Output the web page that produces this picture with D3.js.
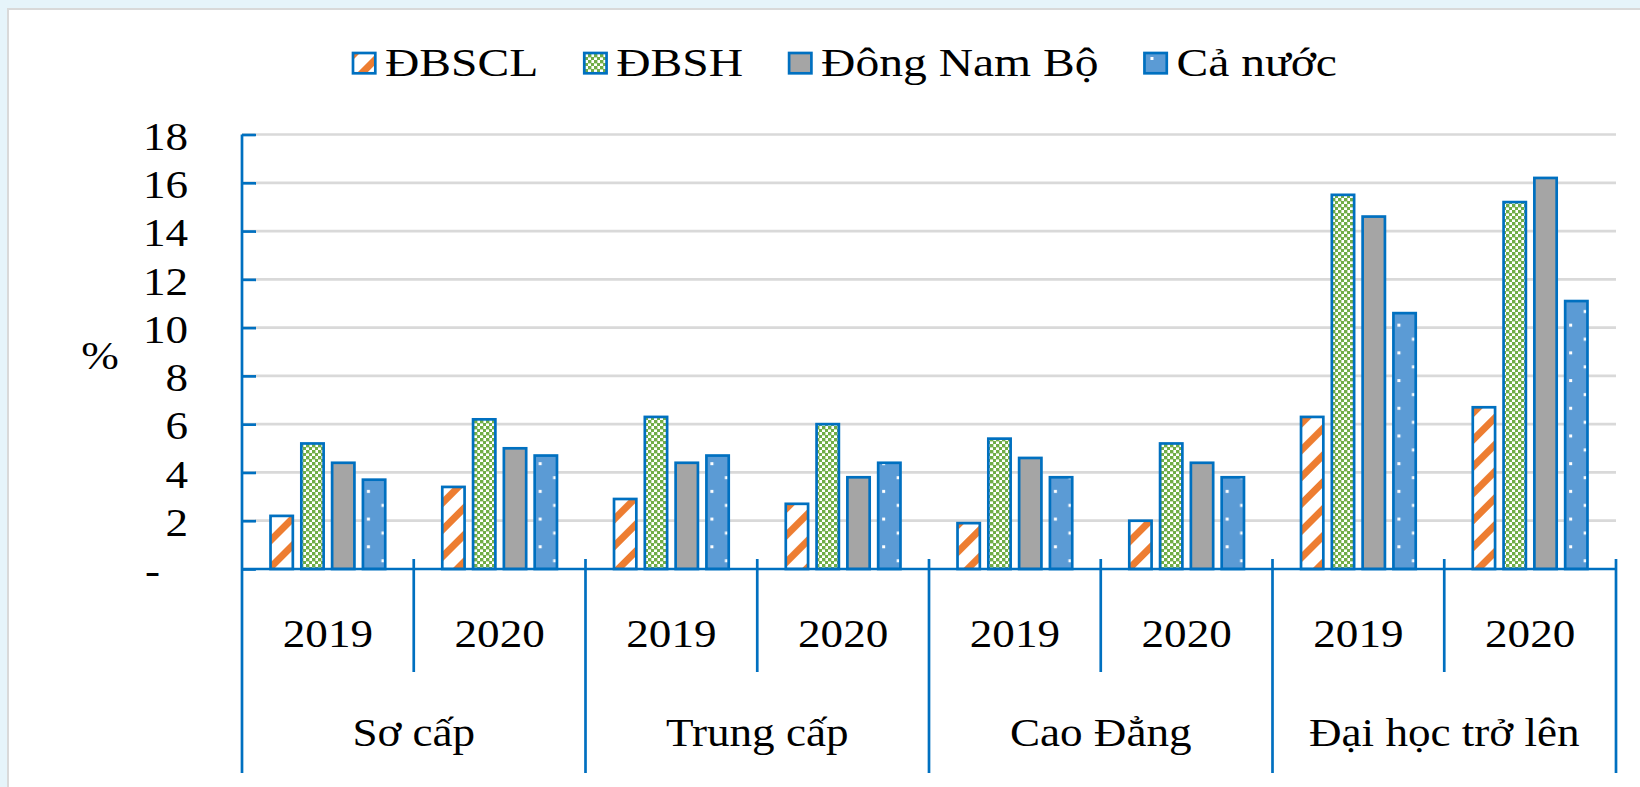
<!DOCTYPE html>
<html>
<head>
<meta charset="utf-8">
<script src="https://cdn.jsdelivr.net/npm/d3@7"></script>
<style>
body { margin: 0; background: #e6f4fa; }
svg { display: block; }
text { font-family: "Liberation Serif", "Times New Roman", serif; fill: #000; }
</style>
</head>
<body>
<div id="chart"></div>
<script>
// data
var categories = ["Sơ cấp", "Trung cấp", "Cao Đẳng", "Đại học trở lên"];
var years = ["2019", "2020"];
var seriesNames = ["ĐBSCL", "ĐBSH", "Đông Nam Bộ", "Cả nước"];
var dbscl     = [2.2, 3.4, 2.9, 2.7, 1.9, 2.0, 6.3, 6.7];
var dbsh      = [5.2, 6.2, 6.3, 6.0, 5.4, 5.2, 15.5, 15.2];
var dongNamBo = [4.4, 5.0, 4.4, 3.8, 4.6, 4.4, 14.6, 16.2];
var caNuoc    = [3.7, 4.7, 4.7, 4.4, 3.8, 3.8, 10.6, 11.1];
var yTicks = [0, 2, 4, 6, 8, 10, 12, 14, 16, 18];

function init(){
    var w = 1640, h = 787;
    var left = 242, right = 1616, top = 134.5, base = 569;
    var blue = "#0070c0";
    var serif = "'Liberation Serif', 'Times New Roman', serif";
    var sx = 1.1;   // glyphs in the picture are a bit wide
    var lsx = 1.16; // legend text is wider still

    var values = [dbscl, dbsh, dongNamBo, caNuoc];
    var fills = ["url(#stripes)", "url(#checker)", "#a5a5a5", "url(#dots)"];

    var groups = [];
    categories.forEach(function(c){
        years.forEach(function(y){ groups.push(c + "|" + y); });
    });

    var svg = d3.select("#chart").append("svg")
                .attr("width", w)
                .attr("height", h);

    svg.append("rect")
        .attr("x", 8).attr("y", 9)
        .attr("width", w).attr("height", h)
        .attr("fill", "#fff")
        .attr("stroke", "#d9d9d9")
        .attr("stroke-width", 2);

    var x0 = d3.scaleBand().domain(groups).range([left, right]);
    var x1 = d3.scaleBand().domain(seriesNames)
                .range([0, x0.bandwidth()])
                .paddingInner(0.276)
                .paddingOuter(0.926);
    var y = d3.scaleLinear().domain([0, 18]).range([base, top]);

    // patterns
    var defs = svg.append("defs");
    var st = defs.append("pattern").attr("id", "stripes")
        .attr("patternUnits", "userSpaceOnUse")
        .attr("width", 19).attr("height", 19)
        .attr("patternTransform", "rotate(-45)");
    st.append("rect").attr("width", 19).attr("height", 19).attr("fill", "#fff");
    st.append("rect").attr("width", 19).attr("height", 7).attr("fill", "#ed7d31");

    var ch = defs.append("pattern").attr("id", "checker")
        .attr("patternUnits", "userSpaceOnUse")
        .attr("width", 6).attr("height", 6);
    ch.append("rect").attr("width", 6).attr("height", 6).attr("fill", "#fff");
    ch.append("rect").attr("width", 3.4).attr("height", 3.4).attr("fill", "#70ad47");
    ch.append("rect").attr("x", 3).attr("y", 3).attr("width", 3.4).attr("height", 3.4).attr("fill", "#70ad47");

    var cnX = x1("Cả nước");
    var dt = defs.append("pattern").attr("id", "dots")
        .attr("patternUnits", "userSpaceOnUse")
        .attr("x", left).attr("y", base)
        .attr("width", x0.step()).attr("height", 27.7);
    dt.append("rect").attr("width", x0.step()).attr("height", 27.7).attr("fill", "#5b9bd5");
    dt.append("rect").attr("x", cnX + 4).attr("y", 4).attr("width", 3).attr("height", 3).attr("fill", "#fff");
    dt.append("rect").attr("x", cnX + 18.5).attr("y", 18).attr("width", 3).attr("height", 3).attr("fill", "#fff");

    // gridlines
    svg.append("g").selectAll("line")
        .data(yTicks.filter(function(d){ return d > 0; }))
        .enter().append("line")
        .attr("x1", left).attr("x2", right)
        .attr("y1", function(d){ return y(d); })
        .attr("y2", function(d){ return y(d); })
        .attr("stroke", "#d9d9d9")
        .attr("stroke-width", 2.7);

    // y axis
    var yAxis = d3.axisLeft(y).tickValues(yTicks)
        .tickSize(-14).tickPadding(54)
        .tickFormat(function(d){ return d === 0 ? "-" : d; });
    var ga = svg.append("g").attr("transform", "translate(" + left + ",0)").call(yAxis)
        .attr("font-family", serif);
    ga.select(".domain").remove();
    ga.selectAll(".tick line").attr("stroke", blue).attr("stroke-width", 2.7);
    ga.selectAll(".tick text")
        .attr("font-size", 41)
        .attr("font-family", serif)
        .attr("fill", "#000")
        .attr("dy", "0.36em")
        .attr("transform", function(d){ return "translate(" + (d === 0 ? -28 : 0) + ",0)"; })
        .each(function(){
            var t = d3.select(this);
            var tx = +t.attr("x");
            t.attr("transform", t.attr("transform") + " translate(" + tx + ",0) scale(" + sx + ",1) translate(" + (-tx) + ",0)");
        });

    svg.append("text")
        .attr("transform", "translate(100,355) scale(" + sx + ",1)")
        .attr("text-anchor", "middle")
        .attr("dy", "0.35em")
        .attr("font-family", serif)
        .attr("font-size", 41)
        .text("%");

    // bars, flat so that the fill patterns stay in one user space
    var bars = [];
    groups.forEach(function(g, i){
        seriesNames.forEach(function(s, j){
            bars.push({g: g, s: s, j: j, v: values[j][i]});
        });
    });
    svg.append("g").selectAll("rect")
        .data(bars)
        .enter().append("rect")
        .attr("x", function(d){ return x0(d.g) + x1(d.s); })
        .attr("width", x1.bandwidth())
        .attr("y", function(d){ return y(d.v); })
        .attr("height", function(d){ return base - y(d.v); })
        .attr("fill", function(d){ return fills[d.j]; })
        .attr("stroke", blue)
        .attr("stroke-width", 2.7);

    // x axis line and separators
    var xa = svg.append("g").attr("stroke", blue).attr("stroke-width", 2.7);
    xa.append("line")
        .attr("x1", left).attr("x2", right)
        .attr("y1", base).attr("y2", base);
    xa.append("line")
        .attr("x1", left).attr("x2", left)
        .attr("y1", top).attr("y2", 773);
    var bounds = d3.range(1, groups.length + 1);
    xa.selectAll(".sep")
        .data(bounds)
        .enter().append("line")
        .attr("class", "sep")
        .attr("x1", function(d){ return left + d * x0.step(); })
        .attr("x2", function(d){ return left + d * x0.step(); })
        .attr("y1", base - 10)
        .attr("y2", function(d){ return d % 2 === 0 ? 773 : 672; });

    svg.append("g").selectAll("text")
        .data(groups)
        .enter().append("text")
        .attr("transform", function(d){
            return "translate(" + (x0(d) + x0.bandwidth() / 2) + ",646.5) scale(" + sx + ",1)";
        })
        .attr("text-anchor", "middle")
        .attr("font-family", serif)
        .attr("font-size", 41)
        .text(function(d){ return d.split("|")[1]; });

    svg.append("g").selectAll("text")
        .data(categories)
        .enter().append("text")
        .attr("transform", function(d){
            return "translate(" + (x0(d + "|" + years[0]) + x0.bandwidth()) + ",746) scale(" + sx + ",1)";
        })
        .attr("text-anchor", "middle")
        .attr("font-family", serif)
        .attr("font-size", 41)
        .text(function(d){ return d; });

    // legend
    var lfills = ["url(#stripes)", "url(#checker)", "#a5a5a5", "#5b9bd5"];

    var lx = 353;
    seriesNames.forEach(function(s, i){
        var g = svg.append("g");
        g.append("rect")
            .attr("x", lx).attr("y", 53)
            .attr("width", 22.3).attr("height", 20.3)
            .attr("fill", lfills[i])
            .attr("stroke", blue)
            .attr("stroke-width", 2.7);
        if (i === 3) {
            g.append("rect").attr("x", lx + 6).attr("y", 57)
                .attr("width", 3).attr("height", 3).attr("fill", "#fff");
        }
        var t = g.append("text")
            .attr("transform", "translate(" + (lx + 32) + ",75.5) scale(" + lsx + ",1)")
            .attr("font-family", serif)
            .attr("font-size", 41)
            .text(s);
        lx += 32 + t.node().getComputedTextLength() * lsx + 46;
    });
}
window.onload = init;
</script>
</body>
</html>
